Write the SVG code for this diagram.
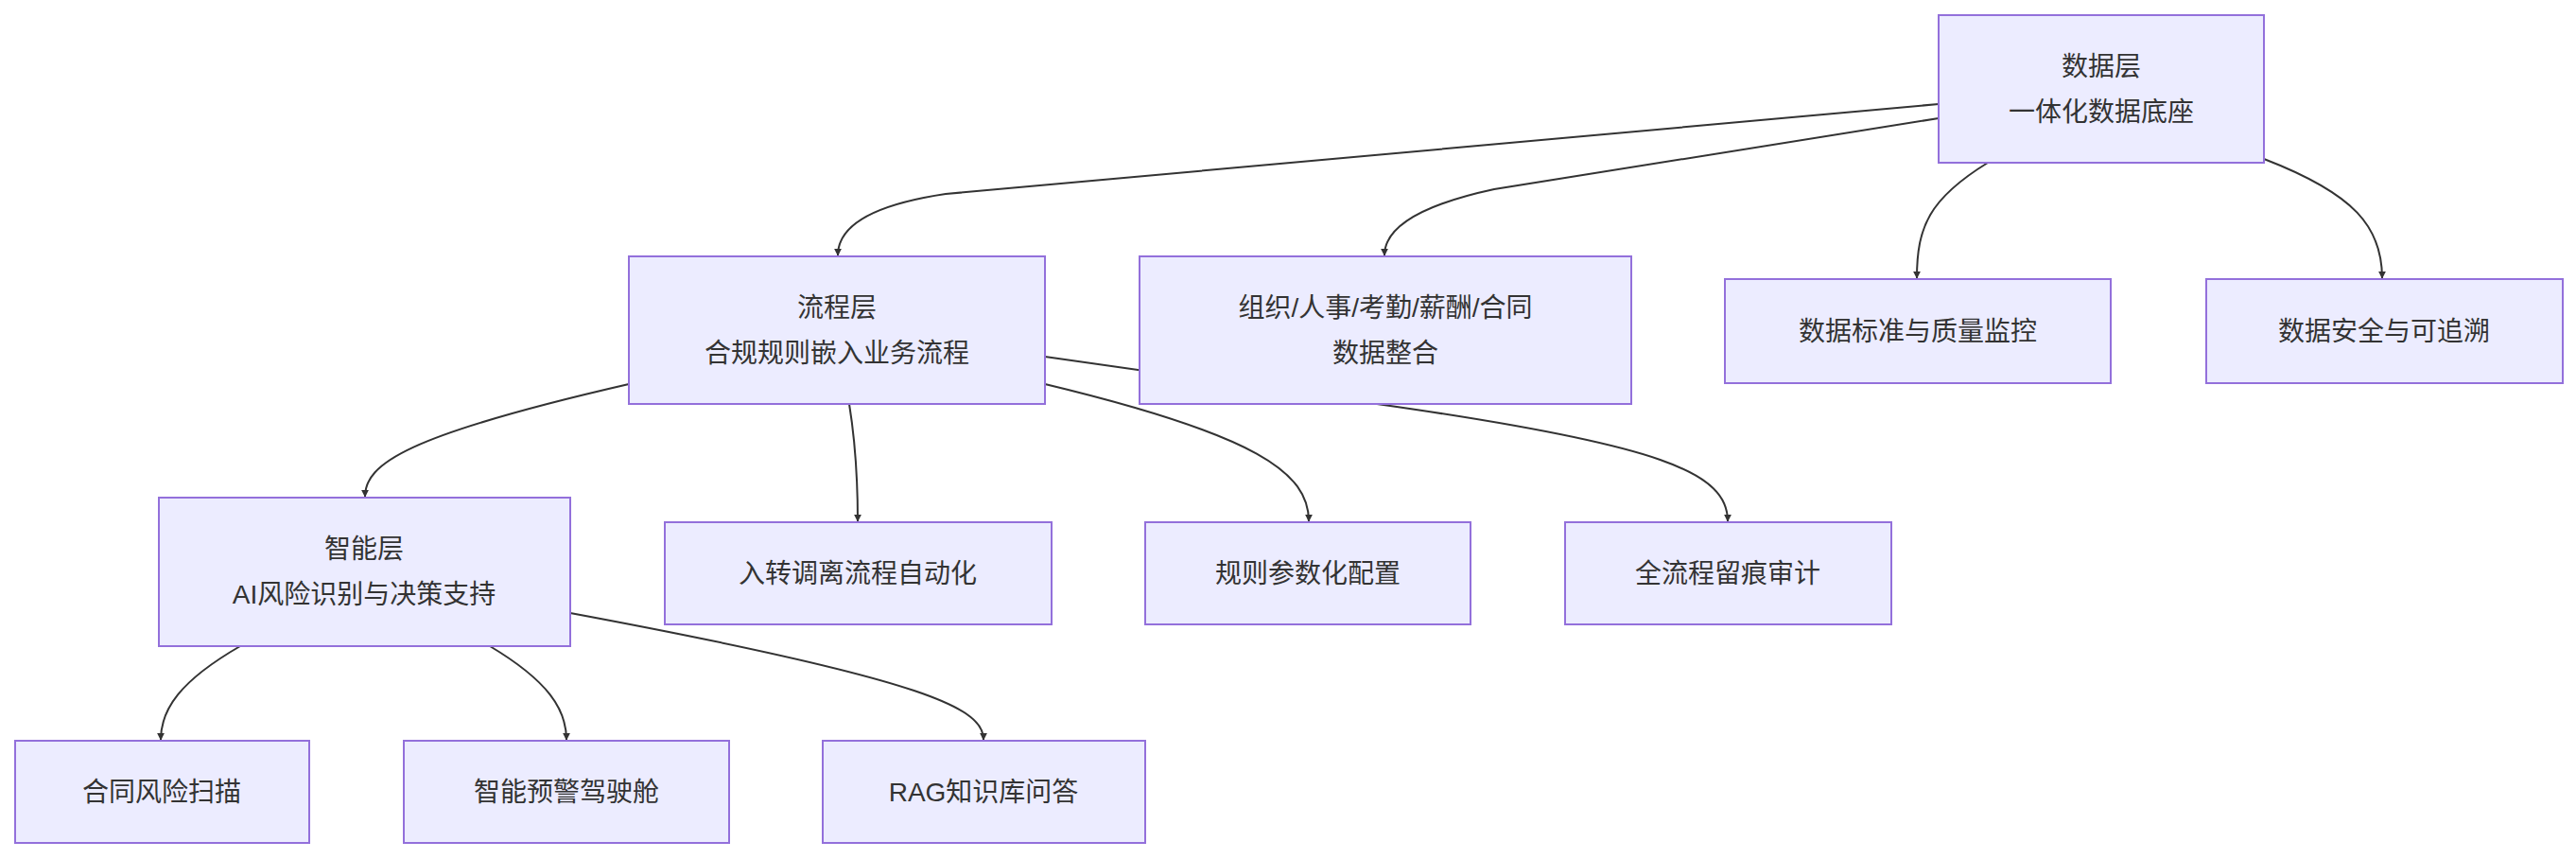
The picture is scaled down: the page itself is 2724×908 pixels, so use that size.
<svg xmlns="http://www.w3.org/2000/svg" width="2724" height="908" viewBox="0 0 2724 908">
<style>
.n rect{fill:#ECECFF;stroke:#9370DB;stroke-width:2}
.n text{font-family:"Liberation Sans","Noto Sans CJK SC",sans-serif;font-size:28px;fill:#333;text-anchor:middle;dominant-baseline:central}
.e path{fill:none;stroke:#333;stroke-width:2;marker-end:url(#a)}
</style>
<defs><marker id="a" viewBox="0 0 10 10" refX="9" refY="5" markerWidth="8" markerHeight="8" orient="auto" markerUnits="userSpaceOnUse"><path d="M0,0L10,5L0,10z" fill="#333"/></marker></defs>
<rect width="2724" height="908" fill="#fff"/>
<g class="e">
<path d="M2050,110 L1000,205 Q886,222 886,270"/>
<path d="M2050,125 L1580,200 Q1464,225 1464,270"/>
<path d="M2102,172 C2040,210 2027,240 2027,294"/>
<path d="M2394,168 C2490,205 2519,240 2519,294"/>
<path d="M665,406 C430,460 386,490 386,525"/>
<path d="M898,427 C905,470 907,510 907,551"/>
<path d="M1105,406 C1330,460 1384,500 1384,551"/>
<path d="M1105,377 L1456,427 C1760,470 1827,500 1827,551"/>
<path d="M254,683 C190,720 170,750 170,782"/>
<path d="M518,683 C580,720 599,750 599,782"/>
<path d="M603,648 C990,720 1040,750 1040,782"/>
</g>
<g class="n" id="n1"><rect x="2050" y="16" width="344" height="156"/><text x="2222" y="70">数据层</text><text x="2222" y="118">一体化数据底座</text></g>
<g class="n" id="n2"><rect x="665" y="271" width="440" height="156"/><text x="885" y="325">流程层</text><text x="885" y="373">合规规则嵌入业务流程</text></g>
<g class="n" id="n3"><rect x="1205" y="271" width="520" height="156"/><text x="1465" y="325">组织/人事/考勤/薪酬/合同</text><text x="1465" y="373">数据整合</text></g>
<g class="n" id="n4"><rect x="1824" y="295" width="408" height="110"/><text x="2028" y="350">数据标准与质量监控</text></g>
<g class="n" id="n5"><rect x="2333" y="295" width="377" height="110"/><text x="2521" y="350">数据安全与可追溯</text></g>
<g class="n" id="n6"><rect x="168" y="526" width="435" height="157"/><text x="385" y="580">智能层</text><text x="385" y="628">AI风险识别与决策支持</text></g>
<g class="n" id="n7"><rect x="703" y="552" width="409" height="108"/><text x="907" y="606">入转调离流程自动化</text></g>
<g class="n" id="n8"><rect x="1211" y="552" width="344" height="108"/><text x="1383" y="606">规则参数化配置</text></g>
<g class="n" id="n9"><rect x="1655" y="552" width="345" height="108"/><text x="1827" y="606">全流程留痕审计</text></g>
<g class="n" id="n10"><rect x="16" y="783" width="311" height="108"/><text x="171" y="837">合同风险扫描</text></g>
<g class="n" id="n11"><rect x="427" y="783" width="344" height="108"/><text x="599" y="837">智能预警驾驶舱</text></g>
<g class="n" id="n12"><rect x="870" y="783" width="341" height="108"/><text x="1040" y="837">RAG知识库问答</text></g>
</svg>
